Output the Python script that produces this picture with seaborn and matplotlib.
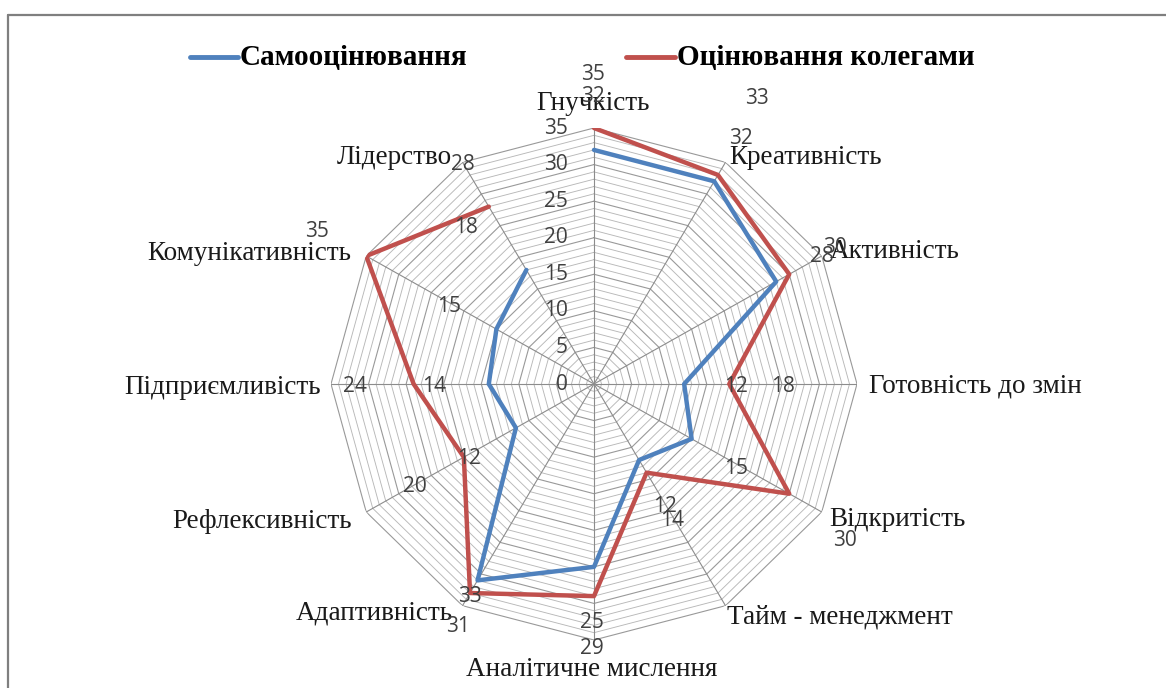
import numpy as np
import pandas as pd
import matplotlib
matplotlib.use("Agg")
import matplotlib.pyplot as plt
from matplotlib.lines import Line2D
import seaborn as sns

# ---------------- data ----------------
categories = ['Гнучкість', 'Креативність', 'Активність', 'Готовність до змін',
              'Відкритість', 'Тайм - менеджмент', 'Аналітичне мислення',
              'Адаптивність', 'Рефлексивність', 'Підприємливість',
              'Комунікативність', 'Лідерство']
self_vals = [32, 32, 28, 12, 15, 12, 25, 31, 12, 14, 15, 18]
peer_vals = [35, 33, 30, 18, 30, 14, 29, 33, 20, 24, 35, 28]
series_names = ['Самооцінювання', 'Оцінювання колегами']
radial_ticks = [0, 5, 10, 15, 20, 25, 30, 35]
r_max = 35

# ---------------- layout (pixel positions from reference) ----------------
W, H = 1166, 688
cat_label_pos = [(593, 103), (806, 157), (895, 252), (975, 386), (897, 520),
                 (840, 617), (592, 670), (374, 613), (262, 521), (223, 387),
                 (249, 253), (394, 157)]
self_label_pos = [(593, 97), (741, 138), (822, 256), (736, 386), (736, 468),
                  (665, 506), (592, 622), (458, 627), (469, 458), (434, 387),
                  (449, 306), (466, 228)]
peer_label_pos = [(593, 75), (757, 98), (835, 247), (783, 386), (845, 541),
                  (672, 521), (592, 649), (470, 597), (415, 486), (355, 387),
                  (317, 232), (463, 164)]

def fx(x):
    return x / W

def fy(y):
    return 1 - y / H

sns.set_theme(style='white')
plt.rcParams['font.family'] = ['DejaVu Sans']

c_self = '#4F81BD'
c_peer = '#C0504D'

fig = plt.figure(figsize=(W / 100, H / 100), dpi=100)
fig.patch.set_facecolor('white')

cx, cy = 594, 384
rx, ry = 263, 256
ax = fig.add_axes([fx(cx - rx), fy(cy + ry), 2 * rx / W, 2 * ry / H], projection='polar')
ax.set_aspect('auto')
ax.set_theta_offset(np.pi / 2)
ax.set_theta_direction(-1)
ax.set_ylim(0, r_max)
ax.grid(False)
ax.spines['polar'].set_visible(False)
ax.set_xticks([])
ax.set_yticks([])
ax.patch.set_alpha(0)

n = len(categories)
angles = np.linspace(0, 2 * np.pi, n, endpoint=False)
closed = np.concatenate([angles, angles[:1]])

# polygon grid rings
for r in range(1, r_max + 1):
    major = (r % 5 == 0)
    ax.plot(closed, [r] * (n + 1), color='#999999' if major else '#B8B8B8',
            lw=0.8 if major else 0.65, zorder=1)
for a in angles:
    ax.plot([a, a], [0, r_max], color='#8C8C8C', lw=0.8, zorder=1)

# radial tick labels
for v in radial_ticks:
    ax.annotate(str(v), xy=(0, v), xytext=(-19, 0), textcoords='offset points',
                ha='right', va='center', fontsize=15, color='#404040',
                family='Open Sans', zorder=5)

# series via seaborn
rows = []
for name, vals in zip(series_names, [self_vals, peer_vals]):
    vv = list(vals) + [vals[0]]
    for k, (t, v) in enumerate(zip(closed, vv)):
        rows.append({'series': name, 'theta': t, 'value': v, 'order': k})
df = pd.DataFrame(rows)
sns.lineplot(data=df, x='theta', y='value', hue='series', sort=False,
             palette={series_names[0]: c_self, series_names[1]: c_peer},
             lw=3.2, ax=ax, legend=False, zorder=3)
ax.set_xlabel('')
ax.set_ylabel('')
ax.set_xticks([])
ax.set_yticks([])
ax.set_ylim(0, r_max)

# category labels
for lab, (x, y) in zip(categories, cat_label_pos):
    fig.text(fx(x), fy(y), lab, ha='center', va='center', fontsize=19.5,
             family='Liberation Serif', color='#1a1a1a')

# data labels
for vals, poss in [(self_vals, self_label_pos), (peer_vals, peer_label_pos)]:
    for v, (x, y) in zip(vals, poss):
        fig.text(fx(x), fy(y), str(v), ha='center', va='center', fontsize=15,
                 family='Open Sans', color='#404040')

# legend
for (x0, x1, tx), col, name in [((190, 238, 240), c_self, series_names[0]),
                                ((626, 675, 677), c_peer, series_names[1])]:
    fig.add_artist(Line2D([fx(x0), fx(x1)], [fy(57), fy(57)], color=col, lw=3.5))
    fig.text(fx(tx), fy(57), name, ha='left', va='center', fontsize=21,
             family='Liberation Serif', fontweight='bold', color='black')

# outer frame (top and left)
fig.add_artist(Line2D([fx(8), fx(W)], [fy(15), fy(15)], color='#7F7F7F', lw=1.6))
fig.add_artist(Line2D([fx(8), fx(8)], [fy(15), fy(H)], color='#7F7F7F', lw=1.6))

fig.savefig('out.png', dpi=100, facecolor='white')
